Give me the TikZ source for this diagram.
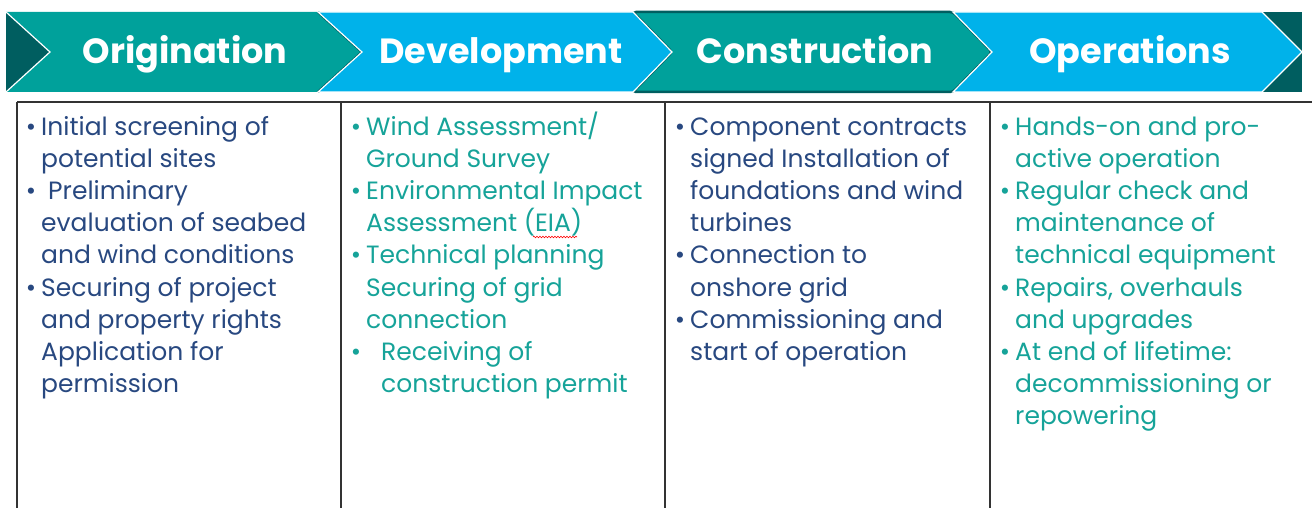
\documentclass[tikz,border=0pt]{standalone}
\usepackage{fontspec}
\setmainfont{Poppins}
\usepackage{tikz}
\usetikzlibrary{positioning,decorations.pathmorphing}
\definecolor{phaseteal}{RGB}{0,161,155}
\definecolor{phaseblue}{RGB}{0,178,234}
\definecolor{darkteal}{RGB}{0,94,96}
\definecolor{textnavy}{RGB}{40,72,128}
\definecolor{textteal}{RGB}{22,163,153}
\newcommand{\bl}{\llap{\textbullet\hspace{5pt}}}

\begin{document}
\begin{tikzpicture}[x=1pt, y=-1pt,
    tealphase/.style={fill=phaseteal, draw=darkteal, line width=2.5pt, line join=miter},
    bluephase/.style={fill=phaseblue, draw=white, line width=1.2pt, line join=miter},
    phasetitle/.style={anchor=base, inner sep=0pt, text=white, font=\fontsize{35}{35}\selectfont\bfseries},
    itemlist/.style={anchor=base west, inner sep=0pt, align=left, font=\fontsize{25}{32.2}\selectfont},
    colline/.style={draw=black!80, line width=1.5pt}
]
\useasboundingbox (0,0) rectangle (1312,508);

% Band
\fill[darkteal] (6,12) rectangle (1302,92);

% Phases
\fill[phaseteal] (6,12) -- (318,12) -- (362,52) -- (318,92) -- (6,92) -- (50,52) -- cycle;
\draw[darkteal, line width=2.5pt] (318,12) -- (362,52) -- (318,92);
\draw[white, line width=1.2pt] (6,12) -- (50,52) -- (6,92);
\filldraw[tealphase, rounded corners=3pt] (633,12) -- (953,12) -- (992,52) -- (953,92) -- (633,92) -- (672,52) -- cycle;
\filldraw[bluephase] (318,12) -- (633,12) -- (672,52) -- (633,92) -- (318,92) -- (362,52) -- cycle;
\filldraw[bluephase] (953,12) -- (1262,12) -- (1302,52) -- (1262,92) -- (953,92) -- (992,52) -- cycle;

\node[phasetitle] (orig) at (185,64) {Origination};
\node[phasetitle] (devel) at (501,64) {Development};
\node[phasetitle] (constr) at (815,64) {Construction};
\node[phasetitle] (oper) at (1130,64) {Operations};

% Columns
\draw[colline] (17,102) -- (1312,102);
\draw[colline] (17,102) -- (17,508);
\draw[colline] (341,102) -- (341,508);
\draw[colline] (665,102) -- (665,508);
\draw[colline] (990,102) -- (990,508);

% Origination (base = last line)
\node[itemlist, text=textnavy] (origitems) at (41,392.6) {\bl Initial screening of\\
potential sites\\
\bl\hspace*{7pt}Preliminary\\
evaluation of seabed\\
and wind conditions\\
\bl Securing of project\\
and property rights\\
Application for\\
permission};

% Development
\node[itemlist, text=textteal] (develitems) at (366,392.6) {\bl Wind Assessment/\\
Ground Survey\\
\bl Environmental Impact\\
Assessment (EIA)\\
\bl Technical planning\\
Securing of grid\\
connection\\
\bl\hspace*{15pt}Receiving of\\
\hspace*{15pt}construction permit};
\draw[red, line width=0.6pt, decorate, decoration={snake, amplitude=0.8pt, segment length=3pt}] (533,237) -- (577,237);

% Construction
\node[itemlist, text=textnavy] (constritems) at (690,360.4) {\bl Component contracts\\
signed Installation of\\
foundations and wind\\
turbines\\
\bl Connection to\\
onshore grid\\
\bl Commissioning and\\
start of operation};

% Operations
\node[itemlist, text=textteal] (operitems) at (1015,424.8) {\bl Hands-on and pro-\\
active operation\\
\bl Regular check and\\
maintenance of\\
technical equipment\\
\bl Repairs, overhauls\\
and upgrades\\
\bl At end of lifetime:\\
decommissioning or\\
repowering};

\end{tikzpicture}
\end{document}
